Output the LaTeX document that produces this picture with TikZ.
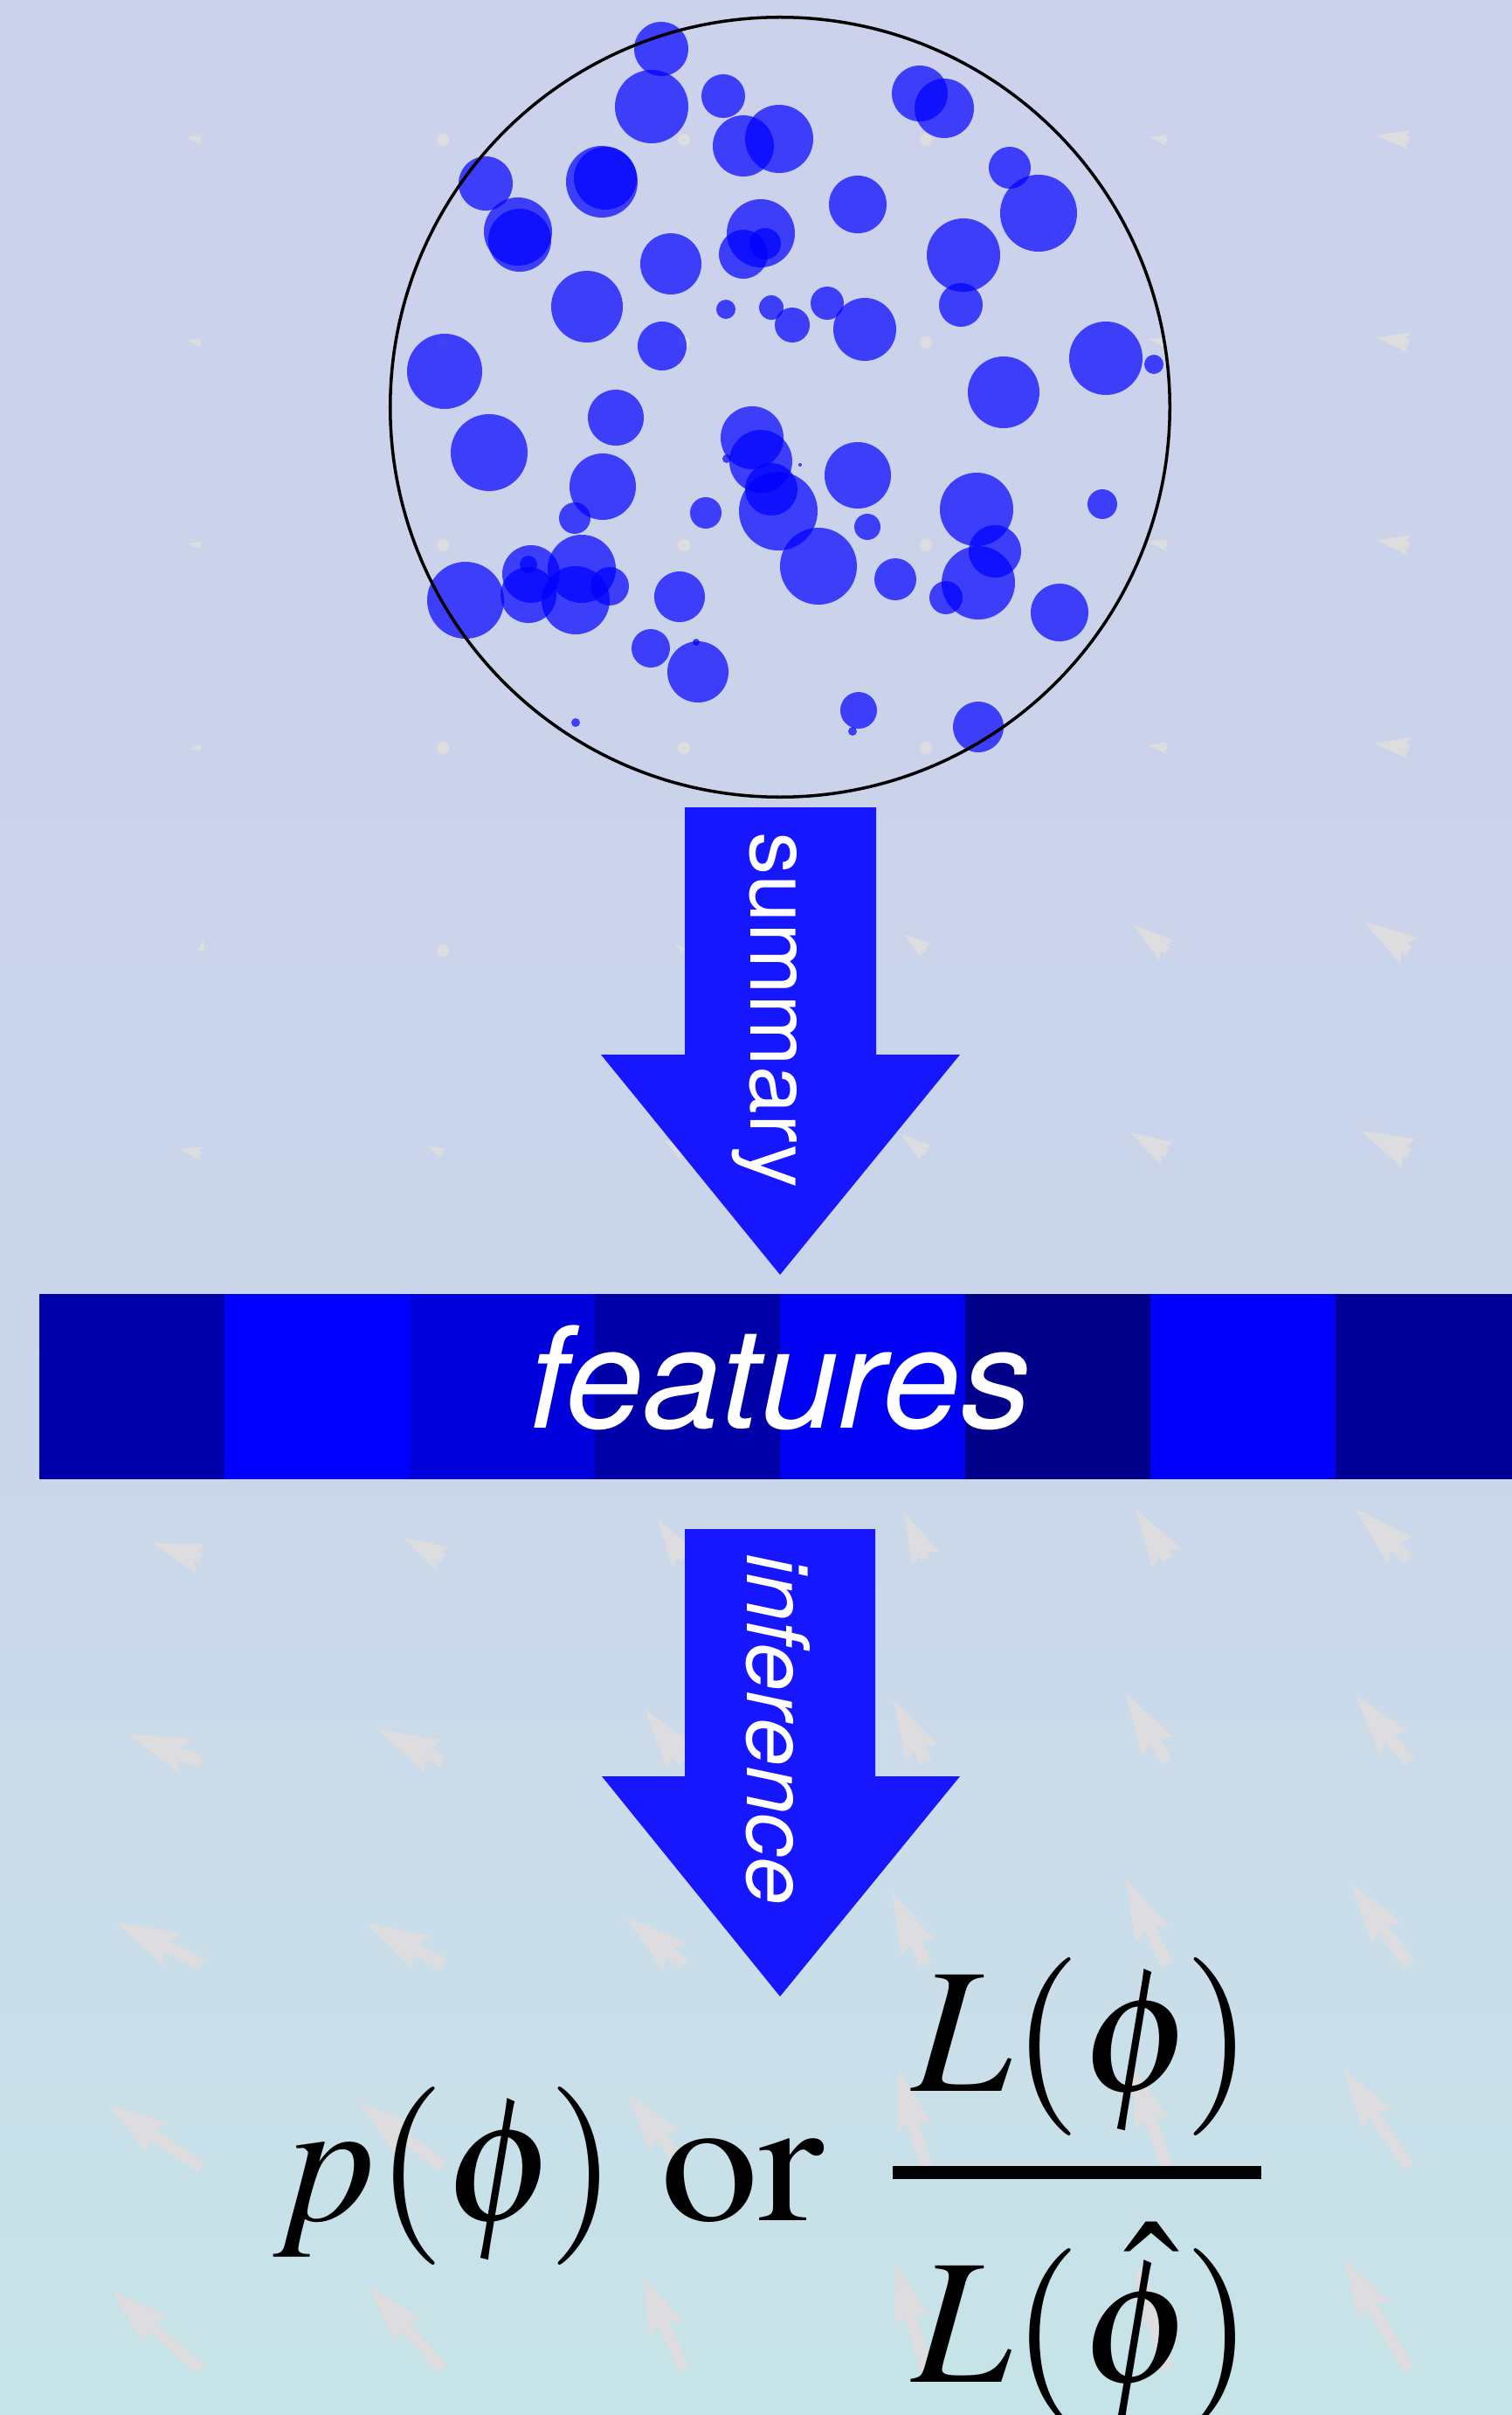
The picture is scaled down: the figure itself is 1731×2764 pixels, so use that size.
\documentclass[tikz,border=0pt]{standalone}
\usepackage{mathptmx}
\usepackage[no-math]{fontspec}
\setsansfont{TeX Gyre Heros}
\usetikzlibrary{calc}

\definecolor{flowblue}{RGB}{22,22,255}
\definecolor{quivgray}{RGB}{221,221,223}
\definecolor{fA}{RGB}{0,0,170}
\definecolor{fB}{RGB}{0,0,255}
\definecolor{fC}{RGB}{0,0,221}
\definecolor{fD}{RGB}{0,0,168}
\definecolor{fE}{RGB}{0,0,242}
\definecolor{fF}{RGB}{0,0,136}
\definecolor{fG}{RGB}{0,0,250}
\definecolor{fH}{RGB}{0,0,153}

% background: lavender at the top fading to pale cyan at the bottom
\pgfdeclareverticalshading{bgshade}{100bp}{%
  rgb(0bp)=(0.776,0.894,0.910);
  rgb(25bp)=(0.776,0.894,0.910);
  rgb(37bp)=(0.796,0.863,0.918);
  rgb(48bp)=(0.792,0.835,0.918);
  rgb(75bp)=(0.800,0.820,0.925);
  rgb(100bp)=(0.800,0.820,0.925)}

\tikzset{
  blob/.style={fill=blue, fill opacity=0.7},
  flowarrow/.style={fill=flowblue},
  flowlabel/.style={text=white, inner sep=0pt, rotate=-90, anchor=base,
    font=\sffamily\fontsize{28}{30}\selectfont},
  formula/.style={inner sep=0pt, anchor=base, font=\fontsize{58}{60}\selectfont},
}

\begin{document}
\begin{tikzpicture}[x=0.01cm, y=-0.01cm]
\useasboundingbox (0,0) rectangle (1731,2764);
\shade[shading=bgshade] (0,0) rectangle (1731,2764);

% faint vector field (tail at the grid point)
\foreach \qx/\qy/\qu/\qv in {
  230/160/-17/-3, 1336/160/-20/-3, 1613/160/-37/-5,
  230/392/-16/-3, 1336/392/-21/-4, 1613/392/-38/-6,
  230/624/-15/-2, 1336/624/-22/-4, 1613/624/-38/-6,
  230/856/-13/1, 1336/856/-22/-3, 1613/856/-40/-5,
  230/1088/3/-12, 783/1088/-10/-8, 1060/1088/-26/-19, 1336/1088/-38/-29, 1613/1088/-51/-33,
  230/1320/-25/-5, 507/1320/-18/-8, 783/1320/-22/-15, 1060/1320/-28/-22, 1336/1320/-42/-24, 1613/1320/-55/-26,
  230/1784/-56/-18, 507/1784/-45/-24, 783/1784/-30/-45, 1060/1784/-25/-53, 1336/1784/-36/-57, 1613/1784/-61/-57,
  230/2016/-83/-31, 507/2016/-74/-37, 783/2016/-45/-60, 1060/2016/-37/-71, 1336/2016/-47/-77, 1613/2016/-61/-75,
  230/2248/-96/-48, 507/2248/-87/-47, 783/2248/-65/-53, 1060/2248/-39/-82, 1336/2248/-47/-97, 1613/2248/-66/-92,
  230/2480/-108/-72, 507/2480/-98/-75, 783/2480/-65/-85, 1060/2480/-32/-112, 1336/2480/-40/-115, 1613/2480/-75/-112,
  230/2712/-103/-91, 507/2712/-85/-96, 783/2712/-48/-110, 1060/2712/-35/-123, 1336/2712/-35/-120, 1613/2712/-75/-127}{
  \pgfmathsetmacro\qlen{veclen(\qu,\qv)}
  \pgfmathsetmacro\qs{min(1,\qlen/70)}
  \pgfmathsetmacro\qcx{\qu/\qlen}
  \pgfmathsetmacro\qcy{\qv/\qlen}
  \begin{scope}[shift={(\qx,\qy)},
      x={({\qcx*0.01cm},{-\qcy*0.01cm})},
      y={({-\qcy*0.01cm},{-\qcx*0.01cm})}]
    \fill[quivgray] (0,{-7*\qs}) -- ({\qlen-63*\qs},{-7*\qs}) -- ({\qlen-70*\qs},{-21*\qs})
      -- (\qlen,0) -- ({\qlen-70*\qs},{21*\qs}) -- ({\qlen-63*\qs},{7*\qs}) -- (0,{7*\qs}) -- cycle;
  \end{scope}
}
\foreach \qx/\qy in {507/160, 783/160, 1060/160, 507/392, 783/392, 1060/392,
  507/624, 783/624, 1060/624, 507/856, 783/856, 1060/856, 507/1088}
  \fill[quivgray] (\qx,\qy) circle[radius=7];

% sample of blobs
\foreach \bx/\by/\br in {
  757/56/31, 746/122/42, 828/110/25, 851/167/35, 892/159/39, 1053/107/32, 1081/124/34,
  556/210/31, 689/208/41, 693/204/36, 593/265/39, 595/275/36, 982/234/33, 871/267/39,
  851/291/28, 876/279/18, 1156/192/24, 1189/244/44, 1103/292/42, 768/302/35, 672/351/41,
  831/354/11, 883/352/14, 907/372/20, 947/347/19, 990/377/36, 1100/349/25, 758/396/28,
  509/425/43, 1266/410/42, 1321/417/11, 1149/449/41, 705/478/32, 560/518/44, 861/501/36,
  871/528/36, 832/525/5, 916/532/2, 982/544/38, 690/557/38, 883/560/30, 891/585/45,
  658/593/18, 808/587/18, 1118/583/42, 1262/577/17, 993/603/15, 937/648/44, 1139/631/30,
  1120/667/42, 1025/663/24, 1083/684/19, 1213/701/33, 533/687/44, 608/657/33, 605/681/32,
  605/646/10, 666/651/39, 659/687/39, 698/671/22, 778/683/29, 745/742/22, 799/769/35,
  797/735/4, 983/813/21, 976/837/5, 1120/832/29, 659/827/5}
  \fill[blob] (\bx,\by) circle[radius=\br];
\node[draw=black, line width=1pt, circle, minimum size=8.92cm, inner sep=0pt] (sample) at (893,466) {};

% summary arrow
\fill[flowarrow] (784,924) -- (1003,924) -- (1003,1207) -- (1099,1207) -- (893,1459)
  -- (688,1207) -- (784,1207) -- cycle;
\node[flowlabel] (summary) at (859,1156) {summary};

% feature vector
\foreach \fx/\fc in {45/fA, 257/fB, 469/fC, 681/fD, 893/fE, 1105/fF, 1317/fG, 1529/fH}
  \fill[\fc] (\fx,1481) rectangle ({min(\fx+212,1731)},1693);
\node[text=white, inner sep=0pt, anchor=base, font=\sffamily\itshape\fontsize{45.7}{48}\selectfont]
  (features) at (893,1634) {features};

% inference arrow
\fill[flowarrow] (784,1750) -- (1002,1750) -- (1002,2033) -- (1099,2033) -- (893,2285)
  -- (689,2033) -- (784,2033) -- cycle;
\node[flowlabel, font=\sffamily\itshape\fontsize{28}{30}\selectfont] (inference) at (855,1979) {inference};

% result
\node[formula] (pphi) at (510,2541) {$p(\phi\mkern-1mu)$};
\node[formula, xscale=1.1] (orword) at (850,2541) {$\mathrm{or}$};
\node[formula] (num) at (1240,2393) {$L(\phi\mkern-1mu)$};
\fill[black] (1022,2479) rectangle (1444,2494);
\node[formula] (den) at (1240,2726) {$L(\hat{\phi}\mkern-1mu)$};
\end{tikzpicture}
\end{document}
